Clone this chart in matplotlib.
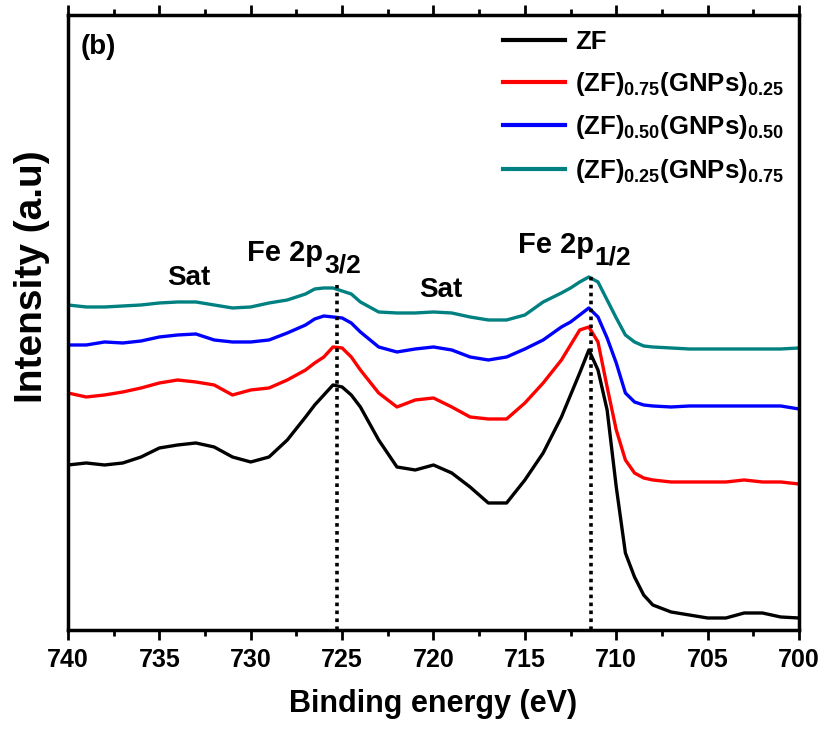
import matplotlib
matplotlib.use('Agg')
import matplotlib.pyplot as plt
from matplotlib.ticker import MultipleLocator

plt.rcParams['font.family'] = ['Liberation Sans', 'DejaVu Sans']
plt.rcParams['font.weight'] = 'bold'
plt.rcParams['mathtext.fontset'] = 'custom'
plt.rcParams['mathtext.rm'] = 'Liberation Sans:bold'
plt.rcParams['mathtext.bf'] = 'Liberation Sans:bold'
plt.rcParams['mathtext.it'] = 'Liberation Sans:bold'

# binding energy (eV)
energy = [740, 739, 738, 737, 736, 735, 734, 733, 732, 731, 730, 729, 728, 727,
          726.5, 726, 725.5, 725, 724.5, 724, 723, 722, 721, 720, 719, 718, 717,
          716, 715, 714, 713, 712.5, 712, 711.5, 711, 710.5, 710, 709.5, 709,
          708.5, 708, 707, 706, 705, 704, 703, 702, 701, 700]

# intensity (a.u.), offset stacked
zf = [165, 167, 165, 167, 173, 182, 185, 187, 183, 173, 168, 173, 190, 213,
      225, 235, 245, 243, 235, 223, 190, 163, 160, 165, 157, 143, 127,
      127, 150, 177, 213, 235, 257, 280, 260, 220, 143, 77, 53,
      35, 25, 18, 15, 12, 12, 17, 17, 13, 12]
zf75 = [237, 233, 235, 238, 242, 247, 250, 248, 245, 235, 240, 242, 250, 260,
        267, 273, 283, 282, 273, 260, 237, 223, 230, 232, 223, 213, 211,
        211, 227, 247, 270, 285, 300, 303, 288, 243, 200, 170, 157,
        152, 150, 148, 148, 148, 148, 150, 148, 148, 146]
zf50 = [285, 285, 288, 287, 289, 293, 295, 296, 290, 288, 288, 290, 297, 305,
        311, 314, 313, 312, 307, 298, 283, 278, 281, 283, 280, 273, 270,
        273, 281, 290, 303, 308, 315, 322, 313, 292, 267, 237, 228,
        225, 224, 223, 224, 224, 224, 224, 224, 224, 221]
zf25 = [325, 323, 323, 324, 325, 327, 328, 328, 325, 322, 323, 327, 330, 336,
        341, 342, 342, 339, 336, 328, 318, 317, 317, 318, 317, 313, 310,
        310, 315, 328, 337, 342, 348, 353, 348, 330, 312, 295, 288,
        284, 283, 282, 281, 281, 281, 281, 281, 281, 282]

labels = ['ZF',
          r'(ZF)$_{0.75}$(GNPs)$_{0.25}$',
          r'(ZF)$_{0.50}$(GNPs)$_{0.50}$',
          r'(ZF)$_{0.25}$(GNPs)$_{0.75}$']
colors = ['black', '#ff0000', '#0000ff', '#008080']

fig = plt.figure(figsize=(8.28, 7.34), dpi=100)
ax = fig.add_axes([0.0821, 0.1417, 0.8829, 0.8379])

for y, lab, c in zip([zf, zf75, zf50, zf25], labels, colors):
    ax.plot(energy, y, color=c, linewidth=2.4, label=lab)

# peak position markers
ax.plot([725.3, 725.3], [0, 345], color='black', linestyle=(0, (1, 1.2)), linewidth=2.6)
ax.plot([711.4, 711.4], [0, 355], color='black', linestyle=(0, (1, 1.2)), linewidth=2.6)

ax.text(733.4, 345, 'Sat', fontsize=20, fontweight='bold', ha='center', va='baseline')
ax.text(719.6, 333, 'Sat', fontsize=20, fontweight='bold', ha='center', va='baseline')

# Fe 2p labels with large subscripts
for x0, y0, sub in [(730.2, 369, '3/2'), (715.4, 377, '1/2')]:
    t = ax.text(x0, y0, 'Fe 2p', fontsize=21, fontweight='bold', ha='left', va='baseline')
    ax.annotate(sub, xy=(1, 0), xycoords=t, xytext=(1, -6), textcoords='offset pixels',
                fontsize=19, fontweight='bold', ha='left', va='baseline')

ax.text(739.3, 583, '(b)', fontsize=20, fontweight='bold', ha='left', va='center')

ax.set_xlim(740, 700)
ax.set_ylim(0, 615)
ax.xaxis.set_major_locator(MultipleLocator(5))
ax.xaxis.set_minor_locator(MultipleLocator(2.5))
ax.set_yticks([])
ax.tick_params(axis='x', which='major', direction='out', length=7, width=2,
               labelsize=18, top=True, pad=6)
ax.tick_params(axis='x', which='minor', direction='out', length=4, width=2, top=True)
for lab in ax.get_xticklabels():
    lab.set_fontweight('bold')
for s in ax.spines.values():
    s.set_linewidth(2.5)

ax.set_xlabel('Binding energy (eV)', fontsize=22, fontweight='bold', labelpad=12)
ax.set_ylabel('Intensity (a.u)', fontsize=28, fontweight='bold')
ax.yaxis.set_label_coords(-0.024, 0.575)

leg = ax.legend(loc='upper right', frameon=False, fontsize=18.5, handlelength=2.4,
                labelspacing=0.6, borderaxespad=0.2, handletextpad=0.4,
                bbox_to_anchor=(1.0, 1.0))
for line in leg.get_lines():
    line.set_linewidth(3)

fig.savefig('out.png', dpi=100)
